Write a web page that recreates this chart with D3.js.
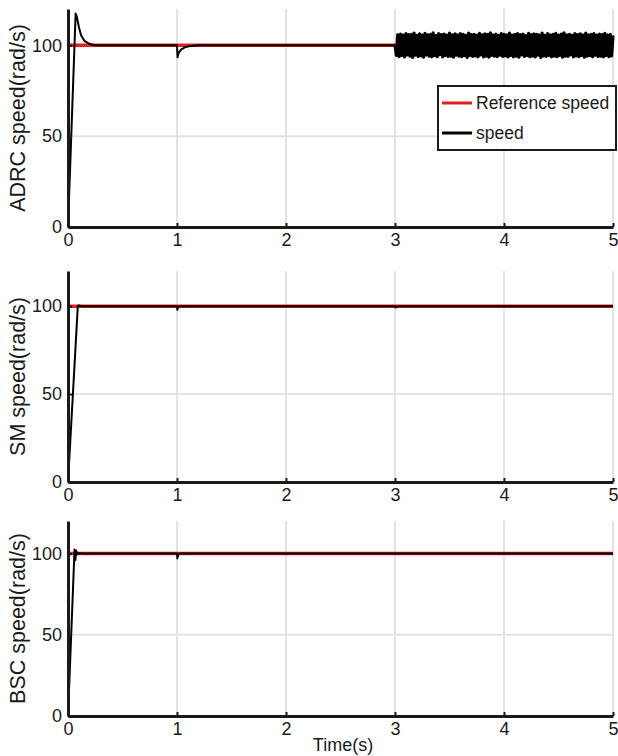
<!DOCTYPE html>
<html>
<head>
<meta charset="utf-8">
<script src="https://d3js.org/d3.v7.min.js"></script>
<style>
  body { margin: 0; background: #fff; }
  text { font-family: "Liberation Sans", Arial, sans-serif; fill: #1a1a1a; }
</style>
</head>
<body>
<div id="chart"></div>
<script>
// ---- data ----
var panelLabels = ["ADRC speed(rad/s)", "SM speed(rad/s)", "BSC speed(rad/s)"];
var xTicks = [0, 1, 2, 3, 4, 5];
var yTicks = [0, 50, 100];
var refSpeed = [[0, 100], [5, 100]];

// ADRC speed: start-up, load step at 1 s, then chattering from 3 s
var adrcStart = [[0, 0], [0.07, 117.5], [0.08, 116], [0.1, 110], [0.12, 105.5], [0.15, 102.5],
                 [0.2, 100.7], [0.25, 100.1], [0.5, 100], [1.0, 100], [1.005, 93.5], [1.015, 95.8],
                 [1.04, 97.8], [1.08, 99.1], [1.13, 99.7], [1.2, 100], [2.0, 100], [3.0, 100]];
var adrcOscStep = 0.0125;   // sample step of the oscillating part, s
var adrcOsc = [
  100, 94.5, 105.8, 93.8, 106.2, 94.4, 105.6, 93.6, 106.5, 94.8, 105.9, 94.0, 106.0, 93.4, 106.8, 94.6, 105.5, 93.9, 106.3, 94.2,
  105.7, 93.5, 106.6, 94.7, 105.8, 94.1, 106.1, 93.7, 106.9, 94.3, 105.4, 93.8, 106.4, 94.9, 105.9, 93.6, 106.2, 94.4, 105.6, 93.9,
  106.7, 94.0, 105.8, 93.5, 106.3, 94.6, 105.7, 94.1, 106.5, 93.8, 106.0, 94.3, 105.5, 93.4, 106.8, 94.5, 105.9, 93.9, 106.1, 94.2,
  105.6, 93.7, 106.6, 94.8, 105.8, 93.6, 106.3, 94.0, 106.0, 93.5, 106.9, 94.4, 105.7, 94.1, 106.2, 93.8, 105.5, 94.6, 106.4, 93.9,
  106.0, 94.2, 105.8, 93.6, 106.7, 94.5, 105.6, 93.7, 106.1, 94.0, 106.5, 93.5, 105.9, 94.7, 106.2, 93.9, 105.4, 94.3, 106.6, 93.8,
  105.9, 94.1, 106.3, 93.6, 106.0, 94.6, 105.7, 93.4, 106.8, 94.2, 105.5, 93.9, 106.4, 94.5, 105.8, 93.7, 106.1, 94.0, 106.6, 93.8,
  105.6, 94.4, 106.2, 93.5, 106.9, 94.1, 105.8, 93.9, 106.0, 94.7, 105.5, 93.6, 106.5, 94.2, 105.9, 93.8, 106.3, 94.4, 105.7, 93.5,
  106.7, 94.0, 105.8, 94.3, 106.1, 93.7, 106.4, 94.6, 105.6, 93.9, 106.2, 94.1, 105.9, 93.6, 106.6, 94.5, 105.7, 93.8, 106.0, 94.2,
  105.5
];
// SM speed
var smSpeed = [[0, 0], [0.09, 100], [0.1, 100.4], [0.12, 100], [1.0, 100], [1.003, 98], [1.012, 99.6],
               [1.03, 100], [3.0, 100], [3.005, 99.2], [3.02, 99.8], [3.05, 100], [5, 100]];
// BSC speed
var bscSpeed = [[0, 0], [0.06, 102.5], [0.068, 96], [0.075, 101.8], [0.085, 99.5], [0.1, 100.2],
                [0.13, 100], [1.0, 100], [1.003, 97], [1.012, 99.4], [1.03, 100], [5, 100]];

var legendNames = ["Reference speed", "speed"];
var legendColors = ["#e01f1f", "#000000"];

// ---- layout ----
var svgSize = {width: 618, height: 756};
var left = 68, right = 613;
var panels = [
  {top: 9, bottom: 227},
  {top: 271, bottom: 482},
  {top: 521, bottom: 716}
];

var adrcOscPts = adrcOsc.map(function(v, i) { return [3 + i * adrcOscStep, v]; });
// each panel: list of [points, stroke width] pieces of the speed curve
var speedSeries = [
  [[adrcStart, 2], [adrcOscPts, 3.2]],
  [[smSpeed, 2]],
  [[bscSpeed, 2]]
];

var svg = d3.select("#chart").append("svg")
  .attr("width", svgSize.width)
  .attr("height", svgSize.height);

var x = d3.scaleLinear().domain([0, 5]).range([left, right]);

panels.forEach(function(p, i) {
  var y = d3.scaleLinear().domain([0, 120]).range([p.bottom, p.top]);
  var g = svg.append("g");

  // grid
  g.append("g").selectAll("line").data(xTicks.slice(1)).enter().append("line")
    .attr("x1", d => x(d)).attr("x2", d => x(d))
    .attr("y1", y(0)).attr("y2", y(120))
    .attr("stroke", "#e3e3e3").attr("stroke-width", 2);
  g.append("g").selectAll("line").data(yTicks.slice(1)).enter().append("line")
    .attr("x1", x(0)).attr("x2", x(5))
    .attr("y1", d => y(d)).attr("y2", d => y(d))
    .attr("stroke", "#e3e3e3").attr("stroke-width", 2);

  var clipId = "clip" + i;
  g.append("clipPath").attr("id", clipId).append("rect")
    .attr("x", x(0)).attr("y", y(120) - 2)
    .attr("width", x(5) - x(0) + 2).attr("height", y(0) - y(120) + 2);

  var line = d3.line().x(d => x(d[0])).y(d => y(d[1]));

  g.append("path").datum(refSpeed)
    .attr("d", line).attr("fill", "none")
    .attr("stroke", legendColors[0]).attr("stroke-width", 3.5)
    .attr("clip-path", "url(#" + clipId + ")");
  speedSeries[i].forEach(function(piece) {
    g.append("path").datum(piece[0])
      .attr("d", line).attr("fill", "none")
      .attr("stroke", legendColors[1]).attr("stroke-width", piece[1])
      .attr("stroke-linejoin", "round")
      .attr("clip-path", "url(#" + clipId + ")");
  });

  // axes
  var xAxis = g.append("g")
    .attr("transform", "translate(0," + y(0) + ")")
    .call(d3.axisBottom(x).tickValues(xTicks).tickFormat(d3.format("d"))
      .tickSize(-4).tickSizeOuter(0).tickPadding(6));
  var yAxis = g.append("g")
    .attr("transform", "translate(" + x(0) + ",0)")
    .call(d3.axisLeft(y).tickValues(yTicks).tickSize(-4).tickSizeOuter(0).tickPadding(6));

  [xAxis, yAxis].forEach(function(a) {
    a.select(".domain").attr("stroke", "#1a1a1a").attr("stroke-width", 3);
    a.selectAll(".tick line").attr("stroke", "#1a1a1a").attr("stroke-width", 2);
    a.selectAll(".tick text").style("font-size", "18px").attr("fill", "#1a1a1a");
  });

  // y label
  g.append("text")
    .attr("transform", "translate(25," + ((p.top + p.bottom) / 2) + ") rotate(-90)")
    .attr("text-anchor", "middle")
    .style("font-size", "21.5px")
    .text(panelLabels[i]);
});

// x label (bottom panel only)
svg.append("text")
  .attr("x", 343).attr("y", 751)
  .attr("text-anchor", "middle")
  .style("font-size", "18px")
  .text("Time(s)");

// legend in the top panel
var lg = svg.append("g").attr("transform", "translate(438,86)");
lg.append("rect").attr("width", 178).attr("height", 64)
  .attr("fill", "#fff").attr("stroke", "#1a1a1a").attr("stroke-width", 2);
legendNames.forEach(function(name, k) {
  var yy = 17 + k * 30;
  lg.append("line").attr("x1", 4).attr("x2", 34).attr("y1", yy).attr("y2", yy)
    .attr("stroke", legendColors[k]).attr("stroke-width", 3);
  lg.append("text").attr("x", 38).attr("y", yy + 6)
    .style("font-size", "17.5px")
    .text(name);
});
</script>
</body>
</html>
